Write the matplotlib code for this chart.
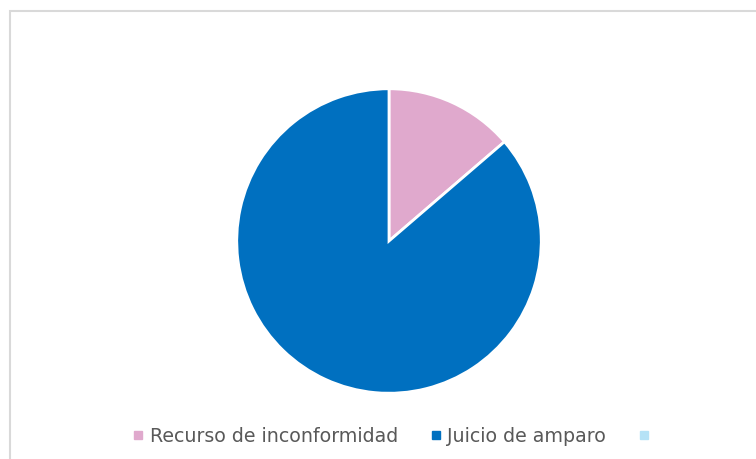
import matplotlib
matplotlib.use("Agg")
import matplotlib.pyplot as plt
from matplotlib.lines import Line2D
from matplotlib.patches import Rectangle

categories = ["Recurso de inconformidad", "Juicio de amparo", ""]
values = [13.7, 86.3, 0.0]
colors = ["#E0A9CD", "#0070C0", "#B5E2F6"]

fig = plt.figure(figsize=(7.56, 4.59), dpi=100)
fig.patch.set_facecolor("white")

# chart border (top/left visible)
fig.add_artist(Rectangle((9.5/756, -0.05), 1.0, 1 - 10.5/459 + 0.05,
                         transform=fig.transFigure, fill=False,
                         edgecolor="#D9D9D9", linewidth=1.5))

ax = fig.add_axes([(389-153)/756, (459-394)/459, 306/756, 306/459])
nz = [(v, c) for v, c in zip(values, colors) if v > 0]
ax.pie([v for v, _ in nz], colors=[c for _, c in nz], startangle=90,
       counterclock=False,
       wedgeprops=dict(edgecolor="white", linewidth=2))
ax.set_xlim(-1.005, 1.005)
ax.set_ylim(-1.005, 1.005)
ax.set_aspect("equal")
ax.axis("off")

handles = [Line2D([], [], marker="s", linestyle="none", markersize=6,
                  markerfacecolor=c, markeredgecolor=c) for c in colors]
leg = fig.legend(handles, categories, loc="center", bbox_to_anchor=(0.522, 1 - 436/459),
                 ncol=3, frameon=False, fontsize=13.7, handlelength=0.5,
                 handletextpad=0.35, columnspacing=1.75, labelcolor="#595959")

fig.savefig("out.png", dpi=100)
